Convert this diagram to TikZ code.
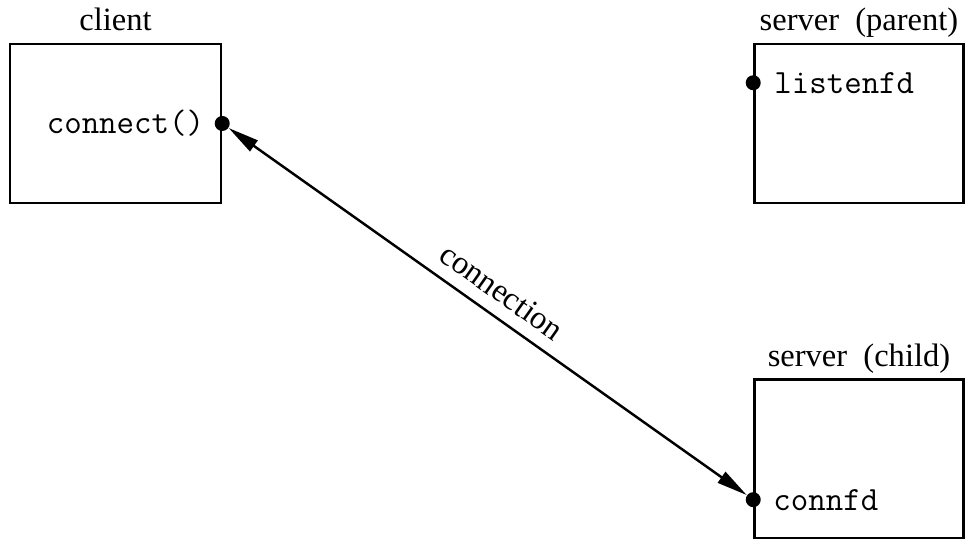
\documentclass[tikz,border=0pt]{standalone}
\usepackage{fontspec}
\setmainfont{Liberation Serif}
\usetikzlibrary{arrows.meta, positioning}

\begin{document}
\begin{tikzpicture}[
  node distance=0.3cm,
  proc/.style ={rectangle, draw, line width=1.4pt, minimum width=4.22cm, minimum height=3.18cm, inner sep=0pt},
  tag/.style  ={font=\fontsize{18.5}{20}\selectfont, inner sep=0pt},
  code/.style ={font=\ttfamily\fontsize{19.3}{21}\selectfont, inner sep=0pt},
  dot/.style  ={circle, fill, inner sep=0pt, minimum size=0.3cm},
  conn/.style ={arrows={Triangle[length=0.62cm, width=0.26cm]-Triangle[length=0.62cm, width=0.26cm]}, line width=1.4pt}
]
\useasboundingbox (0,0) rectangle (19.32,10.78);

\node[proc] (cli) at (2.31,8.31) {};
\node[proc, right=10.62cm of cli, minimum width=4.18cm] (par) {};
\node[proc, below=3.48cm of par, minimum width=4.18cm]  (chi) {};

\node[tag, above=0.24cm of cli.north, anchor=base] (clitag) {client};
\node[tag, above=0.24cm of par.north, anchor=base] (partag) {server\ \ (parent)};
\node[tag, above=0.24cm of chi.north, anchor=base] (chitag) {server\ \ (child)};

\node[dot] (cdot) at (cli.east) {};
\node[dot] (pdot) at ([yshift=-0.8cm]par.north west) {};
\node[dot] (hdot) at ([yshift=0.8cm]chi.south west) {};

\node[code, left=0.2cm of cdot]   (cfn) {connect()};
\node[code, right=0.26cm of pdot] (lfd) {listenfd};
\node[code, right=0.24cm of hdot] (cfd) {connfd};

\draw[conn] (cdot) -- (hdot)
  node[pos=0.5, sloped, above=7pt, tag] {connection};

\end{tikzpicture}
\end{document}
